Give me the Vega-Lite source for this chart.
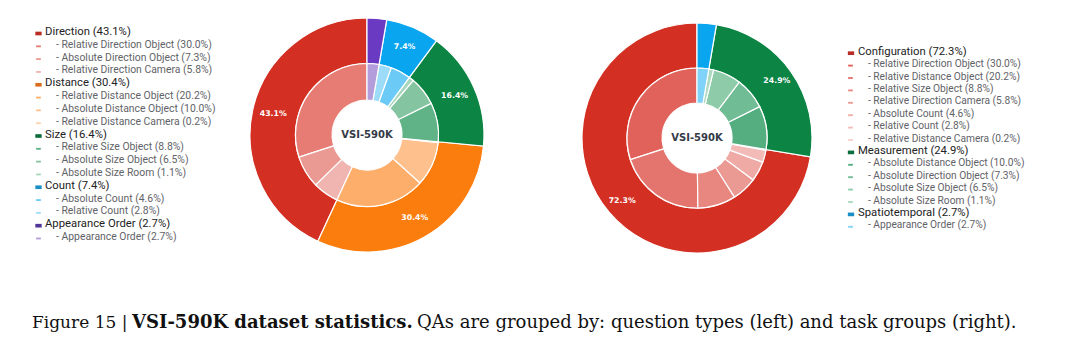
{
  "$schema": "https://vega.github.io/schema/vega-lite/v6.json",
  "background": "white",
  "padding": 0,
  "config": {"view": {"stroke": null}, "font": "Roboto"},
  "datasets": {
    "L": [
      {"label": "Direction (43.1%)", "share": 0.431, "level": "group", "k": 0},
      {"label": "- Relative Direction Object (30.0%)", "share": 0.300, "level": "sub", "k": 1},
      {"label": "- Absolute Direction Object (7.3%)", "share": 0.073, "level": "sub", "k": 2},
      {"label": "- Relative Direction Camera (5.8%)", "share": 0.058, "level": "sub", "k": 3},
      {"label": "Distance (30.4%)", "share": 0.304, "level": "group", "k": 4},
      {"label": "- Relative Distance Object (20.2%)", "share": 0.202, "level": "sub", "k": 5},
      {"label": "- Absolute Distance Object (10.0%)", "share": 0.100, "level": "sub", "k": 6},
      {"label": "- Relative Distance Camera (0.2%)", "share": 0.002, "level": "sub", "k": 7},
      {"label": "Size (16.4%)", "share": 0.164, "level": "group", "k": 8},
      {"label": "- Relative Size Object (8.8%)", "share": 0.088, "level": "sub", "k": 9},
      {"label": "- Absolute Size Object (6.5%)", "share": 0.065, "level": "sub", "k": 10},
      {"label": "- Absolute Size Room (1.1%)", "share": 0.011, "level": "sub", "k": 11},
      {"label": "Count (7.4%)", "share": 0.074, "level": "group", "k": 12},
      {"label": "- Absolute Count (4.6%)", "share": 0.046, "level": "sub", "k": 13},
      {"label": "- Relative Count (2.8%)", "share": 0.028, "level": "sub", "k": 14},
      {"label": "Appearance Order (2.7%)", "share": 0.027, "level": "group", "k": 15},
      {"label": "- Appearance Order (2.7%)", "share": 0.027, "level": "sub", "k": 16}
    ],
    "R": [
      {"label": "Configuration (72.3%)", "share": 0.723, "level": "group", "k": 0},
      {"label": "- Relative Direction Object (30.0%)", "share": 0.300, "level": "sub", "k": 1},
      {"label": "- Relative Distance Object (20.2%)", "share": 0.202, "level": "sub", "k": 2},
      {"label": "- Relative Size Object (8.8%)", "share": 0.088, "level": "sub", "k": 3},
      {"label": "- Relative Direction Camera (5.8%)", "share": 0.058, "level": "sub", "k": 4},
      {"label": "- Absolute Count (4.6%)", "share": 0.046, "level": "sub", "k": 5},
      {"label": "- Relative Count (2.8%)", "share": 0.028, "level": "sub", "k": 6},
      {"label": "- Relative Distance Camera (0.2%)", "share": 0.002, "level": "sub", "k": 7},
      {"label": "Measurement (24.9%)", "share": 0.249, "level": "group", "k": 8},
      {"label": "- Absolute Distance Object (10.0%)", "share": 0.100, "level": "sub", "k": 9},
      {"label": "- Absolute Direction Object (7.3%)", "share": 0.073, "level": "sub", "k": 10},
      {"label": "- Absolute Size Object (6.5%)", "share": 0.065, "level": "sub", "k": 11},
      {"label": "- Absolute Size Room (1.1%)", "share": 0.011, "level": "sub", "k": 12},
      {"label": "Spatiotemporal (2.7%)", "share": 0.027, "level": "group", "k": 13},
      {"label": "- Appearance Order (2.7%)", "share": 0.027, "level": "sub", "k": 14}
    ]
  },
  "spacing": 37,
  "vconcat": [
    {
      "hconcat": [
        {
          "width": 180, "height": 270,
          "data": {"name": "L"},
          "layer": [
            {
              "mark": {"type": "point", "filled": true, "opacity": 1, "yOffset": 1.5},
              "encoding": {
                "x": {"field": "level", "type": "nominal", "scale": {"type": "point", "domain": ["group", "sub"], "range": [38.5, 38.5], "padding": 0}, "axis": null},
                "y": {"field": "label", "type": "nominal", "sort": null, "scale": {"type": "point", "range": [32, 237], "padding": 0}, "axis": null},
                "color": {"field": "label", "type": "nominal", "sort": null, "legend": null,
                  "scale": {"domain": ["Direction (43.1%)", "- Relative Direction Object (30.0%)", "- Absolute Direction Object (7.3%)", "- Relative Direction Camera (5.8%)", "Distance (30.4%)", "- Relative Distance Object (20.2%)", "- Absolute Distance Object (10.0%)", "- Relative Distance Camera (0.2%)", "Size (16.4%)", "- Relative Size Object (8.8%)", "- Absolute Size Object (6.5%)", "- Absolute Size Room (1.1%)", "Count (7.4%)", "- Absolute Count (4.6%)", "- Relative Count (2.8%)", "Appearance Order (2.7%)", "- Appearance Order (2.7%)"],
                    "range": ["#b92b25", "#e67c73", "#eb9993", "#f0b5b0", "#d96d1c", "#fdae6b", "#fec08c", "#fed3ae", "#0b6e3c", "#5fb387", "#84c4a1", "#a8d6bc", "#1a8fc6", "#6ccbf6", "#9ddcf9", "#4f3596", "#b39ddb"]}},
                "shape": {"field": "level", "type": "nominal", "legend": null, "scale": {"domain": ["group", "sub"], "range": ["M-1,-0.58H1V0.58H-1Z", "M-1,-0.4H1V0.4H-1Z"]}},
                "size": {"field": "level", "type": "ordinal", "legend": null, "scale": {"domain": ["group", "sub"], "range": [40, 22]}}
              }
            },
            {
              "mark": {"type": "text", "align": "left", "baseline": "middle", "font": "Roboto"},
              "encoding": {
                "x": {"field": "level", "type": "nominal", "scale": {"type": "point", "domain": ["group", "sub"], "range": [45, 56], "padding": 0}, "axis": null},
                "y": {"field": "label", "type": "nominal", "sort": null, "scale": {"type": "point", "range": [32, 237], "padding": 0}, "axis": null},
                "text": {"field": "label"},
                "size": {"field": "level", "type": "ordinal", "legend": null, "scale": {"domain": ["group", "sub"], "range": [11.3, 10.4]}},
                "color": {"condition": {"test": "datum.level == 'group'", "value": "#222222"}, "value": "#5f6368"}
              }
            }
          ],
          "resolve": {"scale": {"x": "independent", "size": "independent"}}
        },
        {
          "width": 374, "height": 270,
          "data": {"name": "L"},
          "layer": [
            {
              "transform": [{"filter": "datum.level == 'group'"}],
              "mark": {"type": "arc", "radius": 117, "innerRadius": 71.5, "stroke": "white", "strokeWidth": 1.2},
              "encoding": {
                "theta": {"field": "share", "type": "quantitative", "stack": true},
                "order": {"field": "k", "sort": "descending"},
                "color": {"field": "label", "type": "nominal", "legend": null,
                  "scale": {"domain": ["Direction (43.1%)", "- Relative Direction Object (30.0%)", "- Absolute Direction Object (7.3%)", "- Relative Direction Camera (5.8%)", "Distance (30.4%)", "- Relative Distance Object (20.2%)", "- Absolute Distance Object (10.0%)", "- Relative Distance Camera (0.2%)", "Size (16.4%)", "- Relative Size Object (8.8%)", "- Absolute Size Object (6.5%)", "- Absolute Size Room (1.1%)", "Count (7.4%)", "- Absolute Count (4.6%)", "- Relative Count (2.8%)", "Appearance Order (2.7%)", "- Appearance Order (2.7%)"],
                    "range": ["#d32f23", "#e67c73", "#eb9993", "#f0b5b0", "#fa7d0e", "#fdae6b", "#fec08c", "#fed3ae", "#0b8444", "#5fb387", "#84c4a1", "#a8d6bc", "#0aa5ef", "#6ccbf6", "#9ddcf9", "#6a3bc2", "#b39ddb"]}}
              }
            },
            {
              "transform": [{"filter": "datum.level == 'sub'"}],
              "mark": {"type": "arc", "radius": 71.5, "innerRadius": 35, "stroke": "white", "strokeWidth": 1.2},
              "encoding": {
                "theta": {"field": "share", "type": "quantitative", "stack": true},
                "order": {"field": "k", "sort": "descending"},
                "color": {"field": "label", "type": "nominal", "legend": null,
                  "scale": {"domain": ["Direction (43.1%)", "- Relative Direction Object (30.0%)", "- Absolute Direction Object (7.3%)", "- Relative Direction Camera (5.8%)", "Distance (30.4%)", "- Relative Distance Object (20.2%)", "- Absolute Distance Object (10.0%)", "- Relative Distance Camera (0.2%)", "Size (16.4%)", "- Relative Size Object (8.8%)", "- Absolute Size Object (6.5%)", "- Absolute Size Room (1.1%)", "Count (7.4%)", "- Absolute Count (4.6%)", "- Relative Count (2.8%)", "Appearance Order (2.7%)", "- Appearance Order (2.7%)"],
                    "range": ["#d32f23", "#e67c73", "#eb9993", "#f0b5b0", "#fa7d0e", "#fdae6b", "#fec08c", "#fed3ae", "#0b8444", "#5fb387", "#84c4a1", "#a8d6bc", "#0aa5ef", "#6ccbf6", "#9ddcf9", "#6a3bc2", "#b39ddb"]}}
              }
            },
            {
              "transform": [{"filter": "datum.level == 'group'"}],
              "mark": {"type": "text", "radius": 96, "font": "DejaVu Sans", "fontWeight": "bold", "fontSize": 7.8, "color": "white"},
              "encoding": {
                "theta": {"field": "share", "type": "quantitative", "stack": true},
                "order": {"field": "k", "sort": "descending"},
                "text": {"condition": {"test": "datum.share < 0.05", "value": ""}, "field": "share", "type": "quantitative", "format": ".1%"}
              }
            },
            {
              "data": {"values": [{"t": "VSI-590K"}]},
              "mark": {"type": "text", "font": "DejaVu Sans", "fontWeight": "bold", "fontSize": 10, "color": "#343a46"},
              "encoding": {"text": {"field": "t"}}
            }
          ],
          "resolve": {"scale": {"theta": "independent"}}
        },
        {
          "width": 286, "height": 276,
          "data": {"name": "R"},
          "layer": [
            {
              "transform": [{"filter": "datum.level == 'group'"}],
              "mark": {"type": "arc", "radius": 115, "innerRadius": 70, "stroke": "white", "strokeWidth": 1.2},
              "encoding": {
                "theta": {"field": "share", "type": "quantitative", "stack": true},
                "order": {"field": "k", "sort": "descending"},
                "color": {"field": "label", "type": "nominal", "legend": null,
                  "scale": {"domain": ["Configuration (72.3%)", "- Relative Direction Object (30.0%)", "- Relative Distance Object (20.2%)", "- Relative Size Object (8.8%)", "- Relative Direction Camera (5.8%)", "- Absolute Count (4.6%)", "- Relative Count (2.8%)", "- Relative Distance Camera (0.2%)", "Measurement (24.9%)", "- Absolute Distance Object (10.0%)", "- Absolute Direction Object (7.3%)", "- Absolute Size Object (6.5%)", "- Absolute Size Room (1.1%)", "Spatiotemporal (2.7%)", "- Appearance Order (2.7%)"],
                    "range": ["#d32f23", "#e0625a", "#e4756e", "#e88780", "#eb9993", "#efaaa5", "#f2bbb7", "#f6cecb", "#0b8444", "#54ae80", "#70bc94", "#8ecba9", "#acd9bf", "#0aa5ef", "#7fd2f8"]}}
              }
            },
            {
              "transform": [{"filter": "datum.level == 'sub'"}],
              "mark": {"type": "arc", "radius": 70, "innerRadius": 35, "stroke": "white", "strokeWidth": 1.2},
              "encoding": {
                "theta": {"field": "share", "type": "quantitative", "stack": true},
                "order": {"field": "k", "sort": "descending"},
                "color": {"field": "label", "type": "nominal", "legend": null,
                  "scale": {"domain": ["Configuration (72.3%)", "- Relative Direction Object (30.0%)", "- Relative Distance Object (20.2%)", "- Relative Size Object (8.8%)", "- Relative Direction Camera (5.8%)", "- Absolute Count (4.6%)", "- Relative Count (2.8%)", "- Relative Distance Camera (0.2%)", "Measurement (24.9%)", "- Absolute Distance Object (10.0%)", "- Absolute Direction Object (7.3%)", "- Absolute Size Object (6.5%)", "- Absolute Size Room (1.1%)", "Spatiotemporal (2.7%)", "- Appearance Order (2.7%)"],
                    "range": ["#d32f23", "#e0625a", "#e4756e", "#e88780", "#eb9993", "#efaaa5", "#f2bbb7", "#f6cecb", "#0b8444", "#54ae80", "#70bc94", "#8ecba9", "#acd9bf", "#0aa5ef", "#7fd2f8"]}}
              }
            },
            {
              "transform": [{"filter": "datum.level == 'group'"}],
              "mark": {"type": "text", "radius": 98, "font": "DejaVu Sans", "fontWeight": "bold", "fontSize": 7.8, "color": "white"},
              "encoding": {
                "theta": {"field": "share", "type": "quantitative", "stack": true},
                "order": {"field": "k", "sort": "descending"},
                "text": {"condition": {"test": "datum.share < 0.05", "value": ""}, "field": "share", "type": "quantitative", "format": ".1%"}
              }
            },
            {
              "data": {"values": [{"t": "VSI-590K"}]},
              "mark": {"type": "text", "font": "DejaVu Sans", "fontWeight": "bold", "fontSize": 10, "color": "#343a46"},
              "encoding": {"text": {"field": "t"}}
            }
          ],
          "resolve": {"scale": {"theta": "independent"}}
        },
        {
          "width": 200, "height": 276,
          "data": {"name": "R"},
          "layer": [
            {
              "mark": {"type": "point", "filled": true, "opacity": 1, "yOffset": 1.5},
              "encoding": {
                "x": {"field": "level", "type": "nominal", "scale": {"type": "point", "domain": ["group", "sub"], "range": [11, 10.5], "padding": 0}, "axis": null},
                "y": {"field": "label", "type": "nominal", "sort": null, "scale": {"type": "point", "range": [51.7, 225.3], "padding": 0}, "axis": null},
                "color": {"field": "label", "type": "nominal", "sort": null, "legend": null,
                  "scale": {"domain": ["Configuration (72.3%)", "- Relative Direction Object (30.0%)", "- Relative Distance Object (20.2%)", "- Relative Size Object (8.8%)", "- Relative Direction Camera (5.8%)", "- Absolute Count (4.6%)", "- Relative Count (2.8%)", "- Relative Distance Camera (0.2%)", "Measurement (24.9%)", "- Absolute Distance Object (10.0%)", "- Absolute Direction Object (7.3%)", "- Absolute Size Object (6.5%)", "- Absolute Size Room (1.1%)", "Spatiotemporal (2.7%)", "- Appearance Order (2.7%)"],
                    "range": ["#b92b25", "#e0625a", "#e4756e", "#e88780", "#eb9993", "#efaaa5", "#f2bbb7", "#f6cecb", "#0b6e3c", "#54ae80", "#70bc94", "#8ecba9", "#acd9bf", "#1a8fc6", "#7fd2f8"]}},
                "shape": {"field": "level", "type": "nominal", "legend": null, "scale": {"domain": ["group", "sub"], "range": ["M-1,-0.58H1V0.58H-1Z", "M-1,-0.4H1V0.4H-1Z"]}},
                "size": {"field": "level", "type": "ordinal", "legend": null, "scale": {"domain": ["group", "sub"], "range": [40, 22]}}
              }
            },
            {
              "mark": {"type": "text", "align": "left", "baseline": "middle", "font": "Roboto"},
              "encoding": {
                "x": {"field": "level", "type": "nominal", "scale": {"type": "point", "domain": ["group", "sub"], "range": [18, 28], "padding": 0}, "axis": null},
                "y": {"field": "label", "type": "nominal", "sort": null, "scale": {"type": "point", "range": [51.7, 225.3], "padding": 0}, "axis": null},
                "text": {"field": "label"},
                "size": {"field": "level", "type": "ordinal", "legend": null, "scale": {"domain": ["group", "sub"], "range": [11.3, 10.2]}},
                "color": {"condition": {"test": "datum.level == 'group'", "value": "#222222"}, "value": "#5f6368"}
              }
            }
          ],
          "resolve": {"scale": {"x": "independent", "size": "independent"}}
        }
      ],
      "spacing": 0,
      "bounds": "flush",
      "resolve": {"scale": {"color": "independent", "x": "independent", "y": "independent", "size": "independent", "shape": "independent", "theta": "independent"}}
    },
    {
      "hconcat": [
        {
          "width": 1, "height": 1,
          "data": {"values": [{"t": ""}]},
          "mark": {"type": "text"},
          "encoding": {"text": {"field": "t"}},
          "title": {"text": "Figure 15 |", "anchor": "start", "dx": 32, "font": "DejaVu Serif", "fontSize": 17, "fontWeight": "normal", "color": "#111111"}
        },
        {
          "width": 1, "height": 1,
          "data": {"values": [{"t": ""}]},
          "mark": {"type": "text"},
          "encoding": {"text": {"field": "t"}},
          "title": {"text": "VSI-590K dataset statistics.", "anchor": "start", "font": "DejaVu Serif", "fontSize": 18, "fontWeight": "bold", "color": "#111111"}
        },
        {
          "width": 1, "height": 1,
          "data": {"values": [{"t": ""}]},
          "mark": {"type": "text"},
          "encoding": {"text": {"field": "t"}},
          "title": {"text": "QAs are grouped by: question types (left) and task groups (right).", "anchor": "start", "font": "DejaVu Serif", "fontSize": 18, "fontWeight": "normal", "color": "#111111"}
        }
      ],
      "spacing": 4
    }
  ]
}
